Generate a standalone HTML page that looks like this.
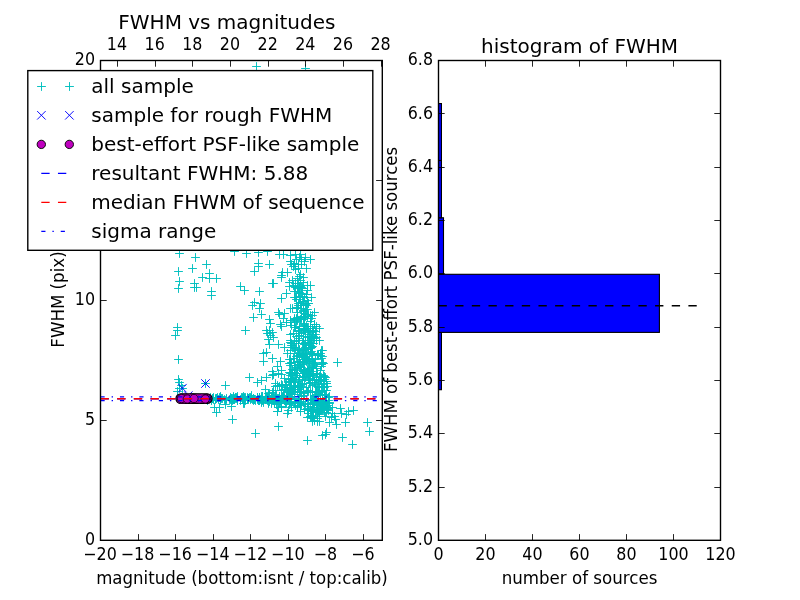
<!DOCTYPE html>
<html lang="en"><head><meta charset="utf-8"><title>FWHM vs magnitudes</title>
<style>html,body{margin:0;padding:0;background:#fff;overflow:hidden}svg{display:block;will-change:transform}text{font-family:"DejaVu Sans","Liberation Sans",sans-serif;fill:#000}</style>
</head><body>
<svg width="800" height="600" viewBox="0 0 800 600">
<rect width="800" height="600" fill="#fff"/>
<defs>
<clipPath id="c1"><rect x="100.5" y="60.5" width="281.80" height="479.80"/></clipPath>
<clipPath id="c2"><rect x="438.5" y="60.5" width="282.00" height="479.80"/></clipPath>
</defs>
<g clip-path="url(#c1)">
<path d="M175.1,253.5h8.8M179.5,249.1v8.8M188.1,268.5h8.8M192.5,264.1v8.8M198.1,277.5h8.8M202.5,273.1v8.8M175.1,281.5h8.8M179.5,277.1v8.8M192.1,287.5h8.8M196.5,283.1v8.8M207.1,295.5h8.8M211.5,291.1v8.8M171.1,335.5h8.8M175.5,331.1v8.8M254.1,252.5h8.8M258.5,248.1v8.8M254.1,263.5h8.8M258.5,259.1v8.8M250.1,271.5h8.8M254.5,267.1v8.8M255.1,291.5h8.8M259.5,287.1v8.8M277.1,277.5h8.8M281.5,273.1v8.8M248.1,305.5h8.8M252.5,301.1v8.8M255.1,308.5h8.8M259.5,304.1v8.8M241.1,330.5h8.8M245.5,326.1v8.8M266.1,323.5h8.8M270.5,319.1v8.8M265.1,330.5h8.8M269.5,326.1v8.8M263.1,333.5h8.8M267.5,329.1v8.8M174.1,359.5h8.8M178.5,355.1v8.8M175.1,388.5h8.8M179.5,384.1v8.8M178.1,388.5h8.8M182.5,384.1v8.8M245.1,377.5h8.8M249.5,373.1v8.8M262.1,377.5h8.8M266.5,373.1v8.8M259.1,361.5h8.8M263.5,357.1v8.8M273.1,366.5h8.8M277.5,362.1v8.8M215.1,407.5h8.8M219.5,403.1v8.8M265.1,344.5h8.8M269.5,340.1v8.8M262.1,352.5h8.8M266.5,348.1v8.8M273.1,411.5h8.8M277.5,407.1v8.8M318.1,435.5h8.8M322.5,431.1v8.8M338.1,437.5h8.8M342.5,433.1v8.8M365.1,431.5h8.8M369.5,427.1v8.8M341.1,422.5h8.8M345.5,418.1v8.8M349.1,410.5h8.8M353.5,406.1v8.8M328.1,413.5h8.8M332.5,409.1v8.8M331.1,419.5h8.8M335.5,415.1v8.8M333.1,362.5h8.8M337.5,358.1v8.8M275.1,314.5h8.8M279.5,310.1v8.8M276.1,324.5h8.8M280.5,320.1v8.8M286.1,255.5h8.8M290.5,251.1v8.8M301.1,257.5h8.8M305.5,253.1v8.8M292.1,259.5h8.8M296.5,255.1v8.8M287.1,264.5h8.8M291.5,260.1v8.8M297.1,264.5h8.8M301.5,260.1v8.8M294.1,268.5h8.8M298.5,264.1v8.8M283.1,272.5h8.8M287.5,268.1v8.8M299.1,277.5h8.8M303.5,273.1v8.8M296.1,280.5h8.8M300.5,276.1v8.8M291.1,283.5h8.8M295.5,279.1v8.8M295.1,276.5h8.8M299.5,272.1v8.8M241.1,400.5h8.8M245.5,396.1v8.8M243.1,398.5h8.8M247.5,394.1v8.8M282.1,397.5h8.8M286.5,393.1v8.8M211.1,398.5h8.8M215.5,394.1v8.8M216.1,397.5h8.8M220.5,393.1v8.8M212.1,398.5h8.8M216.5,394.1v8.8M267.1,399.5h8.8M271.5,395.1v8.8M229.1,399.5h8.8M233.5,395.1v8.8M263.1,397.5h8.8M267.5,393.1v8.8M243.1,399.5h8.8M247.5,395.1v8.8M263.1,396.5h8.8M267.5,392.1v8.8M283.1,397.5h8.8M287.5,393.1v8.8M222.1,399.5h8.8M226.5,395.1v8.8M233.1,400.5h8.8M237.5,396.1v8.8M208.1,398.5h8.8M212.5,394.1v8.8M279.1,397.5h8.8M283.5,393.1v8.8M254.1,399.5h8.8M258.5,395.1v8.8M239.1,398.5h8.8M243.5,394.1v8.8M203.1,398.5h8.8M207.5,394.1v8.8M262.1,396.5h8.8M266.5,392.1v8.8M236.1,400.5h8.8M240.5,396.1v8.8M267.1,398.5h8.8M271.5,394.1v8.8M257.1,398.5h8.8M261.5,394.1v8.8M265.1,401.5h8.8M269.5,397.1v8.8M254.1,400.5h8.8M258.5,396.1v8.8M208.1,398.5h8.8M212.5,394.1v8.8M240.1,397.5h8.8M244.5,393.1v8.8M238.1,397.5h8.8M242.5,393.1v8.8M270.1,401.5h8.8M274.5,397.1v8.8M277.1,398.5h8.8M281.5,394.1v8.8M218.1,398.5h8.8M222.5,394.1v8.8M239.1,396.5h8.8M243.5,392.1v8.8M258.1,399.5h8.8M262.5,395.1v8.8M220.1,399.5h8.8M224.5,395.1v8.8M239.1,399.5h8.8M243.5,395.1v8.8M209.1,399.5h8.8M213.5,395.1v8.8M285.1,398.5h8.8M289.5,394.1v8.8M258.1,398.5h8.8M262.5,394.1v8.8M247.1,398.5h8.8M251.5,394.1v8.8M226.1,397.5h8.8M230.5,393.1v8.8M264.1,397.5h8.8M268.5,393.1v8.8M257.1,398.5h8.8M261.5,394.1v8.8M285.1,403.5h8.8M289.5,399.1v8.8M212.1,398.5h8.8M216.5,394.1v8.8M280.1,400.5h8.8M284.5,396.1v8.8M222.1,398.5h8.8M226.5,394.1v8.8M253.1,399.5h8.8M257.5,395.1v8.8M221.1,400.5h8.8M225.5,396.1v8.8M245.1,397.5h8.8M249.5,393.1v8.8M281.1,400.5h8.8M285.5,396.1v8.8M228.1,398.5h8.8M232.5,394.1v8.8M254.1,400.5h8.8M258.5,396.1v8.8M277.1,390.5h8.8M281.5,386.1v8.8M279.1,395.5h8.8M283.5,391.1v8.8M277.1,399.5h8.8M281.5,395.1v8.8M283.1,389.5h8.8M287.5,385.1v8.8M274.1,407.5h8.8M278.5,403.1v8.8M275.1,398.5h8.8M279.5,394.1v8.8M263.1,399.5h8.8M267.5,395.1v8.8M264.1,402.5h8.8M268.5,398.1v8.8M279.1,398.5h8.8M283.5,394.1v8.8M273.1,400.5h8.8M277.5,396.1v8.8M257.1,400.5h8.8M261.5,396.1v8.8M258.1,400.5h8.8M262.5,396.1v8.8M287.1,381.5h8.8M291.5,377.1v8.8M286.1,392.5h8.8M290.5,388.1v8.8M277.1,406.5h8.8M281.5,402.1v8.8M284.1,410.5h8.8M288.5,406.1v8.8M264.1,403.5h8.8M268.5,399.1v8.8M267.1,399.5h8.8M271.5,395.1v8.8M283.1,389.5h8.8M287.5,385.1v8.8M269.1,398.5h8.8M273.5,394.1v8.8M293.1,286.5h8.8M297.5,282.1v8.8M296.1,296.5h8.8M300.5,292.1v8.8M295.1,299.5h8.8M299.5,295.1v8.8M291.1,287.5h8.8M295.5,283.1v8.8M295.1,286.5h8.8M299.5,282.1v8.8M300.1,297.5h8.8M304.5,293.1v8.8M302.1,294.5h8.8M306.5,290.1v8.8M295.1,292.5h8.8M299.5,288.1v8.8M296.1,286.5h8.8M300.5,282.1v8.8M292.1,299.5h8.8M296.5,295.1v8.8M300.1,317.5h8.8M304.5,313.1v8.8M297.1,305.5h8.8M301.5,301.1v8.8M290.1,319.5h8.8M294.5,315.1v8.8M301.1,304.5h8.8M305.5,300.1v8.8M299.1,303.5h8.8M303.5,299.1v8.8M286.1,308.5h8.8M290.5,304.1v8.8M302.1,309.5h8.8M306.5,305.1v8.8M299.1,310.5h8.8M303.5,306.1v8.8M304.1,303.5h8.8M308.5,299.1v8.8M293.1,308.5h8.8M297.5,304.1v8.8M300.1,317.5h8.8M304.5,313.1v8.8M302.1,305.5h8.8M306.5,301.1v8.8M300.1,313.5h8.8M304.5,309.1v8.8M306.1,315.5h8.8M310.5,311.1v8.8M310.1,312.5h8.8M314.5,308.1v8.8M292.1,336.5h8.8M296.5,332.1v8.8M300.1,344.5h8.8M304.5,340.1v8.8M294.1,343.5h8.8M298.5,339.1v8.8M307.1,337.5h8.8M311.5,333.1v8.8M306.1,340.5h8.8M310.5,336.1v8.8M308.1,337.5h8.8M312.5,333.1v8.8M299.1,340.5h8.8M303.5,336.1v8.8M295.1,335.5h8.8M299.5,331.1v8.8M310.1,324.5h8.8M314.5,320.1v8.8M286.1,334.5h8.8M290.5,330.1v8.8M290.1,327.5h8.8M294.5,323.1v8.8M309.1,336.5h8.8M313.5,332.1v8.8M298.1,343.5h8.8M302.5,339.1v8.8M312.1,326.5h8.8M316.5,322.1v8.8M299.1,343.5h8.8M303.5,339.1v8.8M291.1,327.5h8.8M295.5,323.1v8.8M292.1,343.5h8.8M296.5,339.1v8.8M303.1,337.5h8.8M307.5,333.1v8.8M310.1,324.5h8.8M314.5,320.1v8.8M295.1,328.5h8.8M299.5,324.1v8.8M311.1,331.5h8.8M315.5,327.1v8.8M294.1,340.5h8.8M298.5,336.1v8.8M306.1,326.5h8.8M310.5,322.1v8.8M294.1,331.5h8.8M298.5,327.1v8.8M300.1,324.5h8.8M304.5,320.1v8.8M312.1,337.5h8.8M316.5,333.1v8.8M305.1,359.5h8.8M309.5,355.1v8.8M285.1,363.5h8.8M289.5,359.1v8.8M283.1,353.5h8.8M287.5,349.1v8.8M286.1,359.5h8.8M290.5,355.1v8.8M286.1,350.5h8.8M290.5,346.1v8.8M294.1,353.5h8.8M298.5,349.1v8.8M295.1,350.5h8.8M299.5,346.1v8.8M306.1,348.5h8.8M310.5,344.1v8.8M298.1,355.5h8.8M302.5,351.1v8.8M309.1,366.5h8.8M313.5,362.1v8.8M302.1,354.5h8.8M306.5,350.1v8.8M290.1,362.5h8.8M294.5,358.1v8.8M319.1,363.5h8.8M323.5,359.1v8.8M294.1,353.5h8.8M298.5,349.1v8.8M313.1,355.5h8.8M317.5,351.1v8.8M285.1,359.5h8.8M289.5,355.1v8.8M296.1,353.5h8.8M300.5,349.1v8.8M301.1,356.5h8.8M305.5,352.1v8.8M298.1,359.5h8.8M302.5,355.1v8.8M314.1,354.5h8.8M318.5,350.1v8.8M296.1,366.5h8.8M300.5,362.1v8.8M293.1,365.5h8.8M297.5,361.1v8.8M305.1,360.5h8.8M309.5,356.1v8.8M291.1,367.5h8.8M295.5,363.1v8.8M298.1,359.5h8.8M302.5,355.1v8.8M304.1,363.5h8.8M308.5,359.1v8.8M311.1,359.5h8.8M315.5,355.1v8.8M316.1,355.5h8.8M320.5,351.1v8.8M293.1,353.5h8.8M297.5,349.1v8.8M306.1,352.5h8.8M310.5,348.1v8.8M300.1,359.5h8.8M304.5,355.1v8.8M310.1,364.5h8.8M314.5,360.1v8.8M308.1,367.5h8.8M312.5,363.1v8.8M305.1,361.5h8.8M309.5,357.1v8.8M299.1,362.5h8.8M303.5,358.1v8.8M290.1,394.5h8.8M294.5,390.1v8.8M293.1,386.5h8.8M297.5,382.1v8.8M300.1,370.5h8.8M304.5,366.1v8.8M323.1,386.5h8.8M327.5,382.1v8.8M297.1,386.5h8.8M301.5,382.1v8.8M306.1,382.5h8.8M310.5,378.1v8.8M299.1,371.5h8.8M303.5,367.1v8.8M285.1,372.5h8.8M289.5,368.1v8.8M305.1,378.5h8.8M309.5,374.1v8.8M302.1,387.5h8.8M306.5,383.1v8.8M278.1,396.5h8.8M282.5,392.1v8.8M286.1,382.5h8.8M290.5,378.1v8.8M287.1,394.5h8.8M291.5,390.1v8.8M304.1,371.5h8.8M308.5,367.1v8.8M319.1,387.5h8.8M323.5,383.1v8.8M288.1,378.5h8.8M292.5,374.1v8.8M315.1,376.5h8.8M319.5,372.1v8.8M304.1,379.5h8.8M308.5,375.1v8.8M286.1,375.5h8.8M290.5,371.1v8.8M287.1,388.5h8.8M291.5,384.1v8.8M318.1,387.5h8.8M322.5,383.1v8.8M295.1,389.5h8.8M299.5,385.1v8.8M287.1,372.5h8.8M291.5,368.1v8.8M313.1,373.5h8.8M317.5,369.1v8.8M316.1,374.5h8.8M320.5,370.1v8.8M291.1,385.5h8.8M295.5,381.1v8.8M312.1,391.5h8.8M316.5,387.1v8.8M303.1,391.5h8.8M307.5,387.1v8.8M286.1,388.5h8.8M290.5,384.1v8.8M296.1,385.5h8.8M300.5,381.1v8.8M312.1,377.5h8.8M316.5,373.1v8.8M290.1,387.5h8.8M294.5,383.1v8.8M308.1,392.5h8.8M312.5,388.1v8.8M317.1,384.5h8.8M321.5,380.1v8.8M325.1,396.5h8.8M329.5,392.1v8.8M298.1,373.5h8.8M302.5,369.1v8.8M309.1,374.5h8.8M313.5,370.1v8.8M306.1,375.5h8.8M310.5,371.1v8.8M289.1,380.5h8.8M293.5,376.1v8.8M303.1,370.5h8.8M307.5,366.1v8.8M316.1,394.5h8.8M320.5,390.1v8.8M311.1,384.5h8.8M315.5,380.1v8.8M290.1,382.5h8.8M294.5,378.1v8.8M304.1,376.5h8.8M308.5,372.1v8.8M317.1,391.5h8.8M321.5,387.1v8.8M320.1,379.5h8.8M324.5,375.1v8.8M290.1,372.5h8.8M294.5,368.1v8.8M322.1,383.5h8.8M326.5,379.1v8.8M322.1,381.5h8.8M326.5,377.1v8.8M303.1,373.5h8.8M307.5,369.1v8.8M304.1,390.5h8.8M308.5,386.1v8.8M280.1,378.5h8.8M284.5,374.1v8.8M278.1,385.5h8.8M282.5,381.1v8.8M273.1,385.5h8.8M277.5,381.1v8.8M271.1,386.5h8.8M275.5,382.1v8.8M300.1,409.5h8.8M304.5,405.1v8.8M319.1,408.5h8.8M323.5,404.1v8.8M317.1,409.5h8.8M321.5,405.1v8.8M324.1,408.5h8.8M328.5,404.1v8.8M297.1,404.5h8.8M301.5,400.1v8.8M325.1,403.5h8.8M329.5,399.1v8.8M319.1,402.5h8.8M323.5,398.1v8.8M314.1,401.5h8.8M318.5,397.1v8.8M312.1,404.5h8.8M316.5,400.1v8.8M306.1,400.5h8.8M310.5,396.1v8.8M296.1,405.5h8.8M300.5,401.1v8.8M323.1,405.5h8.8M327.5,401.1v8.8M280.1,400.5h8.8M284.5,396.1v8.8M293.1,406.5h8.8M297.5,402.1v8.8M303.1,406.5h8.8M307.5,402.1v8.8M322.1,407.5h8.8M326.5,403.1v8.8M291.1,405.5h8.8M295.5,401.1v8.8M312.1,400.5h8.8M316.5,396.1v8.8M314.1,401.5h8.8M318.5,397.1v8.8M321.1,401.5h8.8M325.5,397.1v8.8M313.1,416.5h8.8M317.5,412.1v8.8M321.1,416.5h8.8M325.5,412.1v8.8M296.1,411.5h8.8M300.5,407.1v8.8M315.1,421.5h8.8M319.5,417.1v8.8M307.1,416.5h8.8M311.5,412.1v8.8M320.1,412.5h8.8M324.5,408.1v8.8M304.1,413.5h8.8M308.5,409.1v8.8M316.1,410.5h8.8M320.5,406.1v8.8M316.1,402.5h8.8M320.5,398.1v8.8M313.1,405.5h8.8M317.5,401.1v8.8M323.1,409.5h8.8M327.5,405.1v8.8M322.1,409.5h8.8M326.5,405.1v8.8M309.1,407.5h8.8M313.5,403.1v8.8M308.1,411.5h8.8M312.5,407.1v8.8" stroke="#00bfbf" stroke-width="0.95" fill="none"/>
<path d="M191.1,257.5h8.8M195.5,253.1v8.8M174.1,271.5h8.8M178.5,267.1v8.8M205.1,278.5h8.8M209.5,274.1v8.8M190.1,283.5h8.8M194.5,279.1v8.8M190.1,287.5h8.8M194.5,283.1v8.8M173.1,327.5h8.8M177.5,323.1v8.8M230.1,251.5h8.8M234.5,247.1v8.8M263.1,251.5h8.8M267.5,247.1v8.8M254.1,266.5h8.8M258.5,262.1v8.8M236.1,286.5h8.8M240.5,282.1v8.8M268.1,283.5h8.8M272.5,279.1v8.8M282.1,293.5h8.8M286.5,289.1v8.8M250.1,302.5h8.8M254.5,298.1v8.8M257.1,314.5h8.8M261.5,310.1v8.8M274.1,312.5h8.8M278.5,308.1v8.8M277.1,326.5h8.8M281.5,322.1v8.8M268.1,332.5h8.8M272.5,328.1v8.8M269.1,337.5h8.8M273.5,333.1v8.8M174.1,379.5h8.8M178.5,375.1v8.8M177.1,385.5h8.8M181.5,381.1v8.8M201.1,383.5h8.8M205.5,379.1v8.8M253.1,382.5h8.8M257.5,378.1v8.8M269.1,374.5h8.8M273.5,370.1v8.8M268.1,358.5h8.8M272.5,354.1v8.8M210.1,407.5h8.8M214.5,403.1v8.8M273.1,411.5h8.8M277.5,407.1v8.8M274.1,344.5h8.8M278.5,340.1v8.8M228.1,419.5h8.8M232.5,415.1v8.8M274.1,426.5h8.8M278.5,422.1v8.8M321.1,434.5h8.8M325.5,430.1v8.8M348.1,444.5h8.8M352.5,440.1v8.8M325.1,422.5h8.8M329.5,418.1v8.8M336.1,408.5h8.8M340.5,404.1v8.8M337.1,413.5h8.8M341.5,409.1v8.8M330.1,416.5h8.8M334.5,412.1v8.8M328.1,407.5h8.8M332.5,403.1v8.8M252.1,66.5h8.8M256.5,62.1v8.8M279.1,318.5h8.8M283.5,314.1v8.8M280.1,313.5h8.8M284.5,309.1v8.8M291.1,254.5h8.8M295.5,250.1v8.8M306.1,259.5h8.8M310.5,255.1v8.8M297.1,259.5h8.8M301.5,255.1v8.8M290.1,263.5h8.8M294.5,259.1v8.8M302.1,268.5h8.8M306.5,264.1v8.8M291.1,269.5h8.8M295.5,265.1v8.8M277.1,275.5h8.8M281.5,271.1v8.8M293.1,278.5h8.8M297.5,274.1v8.8M285.1,282.5h8.8M289.5,278.1v8.8M294.1,283.5h8.8M298.5,279.1v8.8M217.1,398.5h8.8M221.5,394.1v8.8M264.1,399.5h8.8M268.5,395.1v8.8M203.1,399.5h8.8M207.5,395.1v8.8M275.1,402.5h8.8M279.5,398.1v8.8M278.1,397.5h8.8M282.5,393.1v8.8M256.1,399.5h8.8M260.5,395.1v8.8M229.1,397.5h8.8M233.5,393.1v8.8M272.1,399.5h8.8M276.5,395.1v8.8M211.1,399.5h8.8M215.5,395.1v8.8M253.1,397.5h8.8M257.5,393.1v8.8M236.1,399.5h8.8M240.5,395.1v8.8M253.1,397.5h8.8M257.5,393.1v8.8M286.1,399.5h8.8M290.5,395.1v8.8M270.1,402.5h8.8M274.5,398.1v8.8M208.1,398.5h8.8M212.5,394.1v8.8M226.1,399.5h8.8M230.5,395.1v8.8M270.1,397.5h8.8M274.5,393.1v8.8M233.1,398.5h8.8M237.5,394.1v8.8M265.1,396.5h8.8M269.5,392.1v8.8M268.1,399.5h8.8M272.5,395.1v8.8M265.1,396.5h8.8M269.5,392.1v8.8M232.1,397.5h8.8M236.5,393.1v8.8M258.1,396.5h8.8M262.5,392.1v8.8M284.1,398.5h8.8M288.5,394.1v8.8M283.1,398.5h8.8M287.5,394.1v8.8M233.1,400.5h8.8M237.5,396.1v8.8M203.1,400.5h8.8M207.5,396.1v8.8M255.1,397.5h8.8M259.5,393.1v8.8M233.1,398.5h8.8M237.5,394.1v8.8M273.1,398.5h8.8M277.5,394.1v8.8M257.1,398.5h8.8M261.5,394.1v8.8M268.1,395.5h8.8M272.5,391.1v8.8M229.1,397.5h8.8M233.5,393.1v8.8M251.1,400.5h8.8M255.5,396.1v8.8M274.1,400.5h8.8M278.5,396.1v8.8M209.1,397.5h8.8M213.5,393.1v8.8M231.1,397.5h8.8M235.5,393.1v8.8M255.1,397.5h8.8M259.5,393.1v8.8M255.1,400.5h8.8M259.5,396.1v8.8M280.1,398.5h8.8M284.5,394.1v8.8M246.1,397.5h8.8M250.5,393.1v8.8M244.1,398.5h8.8M248.5,394.1v8.8M240.1,398.5h8.8M244.5,394.1v8.8M282.1,396.5h8.8M286.5,392.1v8.8M249.1,398.5h8.8M253.5,394.1v8.8M228.1,400.5h8.8M232.5,396.1v8.8M238.1,398.5h8.8M242.5,394.1v8.8M282.1,398.5h8.8M286.5,394.1v8.8M263.1,400.5h8.8M267.5,396.1v8.8M213.1,397.5h8.8M217.5,393.1v8.8M232.1,398.5h8.8M236.5,394.1v8.8M240.1,403.5h8.8M244.5,399.1v8.8M273.1,399.5h8.8M277.5,395.1v8.8M239.1,403.5h8.8M243.5,399.1v8.8M285.1,390.5h8.8M289.5,386.1v8.8M286.1,402.5h8.8M290.5,398.1v8.8M275.1,396.5h8.8M279.5,392.1v8.8M257.1,402.5h8.8M261.5,398.1v8.8M257.1,401.5h8.8M261.5,397.1v8.8M270.1,403.5h8.8M274.5,399.1v8.8M272.1,395.5h8.8M276.5,391.1v8.8M269.1,397.5h8.8M273.5,393.1v8.8M259.1,400.5h8.8M263.5,396.1v8.8M272.1,404.5h8.8M276.5,400.1v8.8M277.1,407.5h8.8M281.5,403.1v8.8M265.1,398.5h8.8M269.5,394.1v8.8M275.1,400.5h8.8M279.5,396.1v8.8M255.1,397.5h8.8M259.5,393.1v8.8M269.1,400.5h8.8M273.5,396.1v8.8M259.1,402.5h8.8M263.5,398.1v8.8M283.1,396.5h8.8M287.5,392.1v8.8M257.1,396.5h8.8M261.5,392.1v8.8M279.1,395.5h8.8M283.5,391.1v8.8M303.1,290.5h8.8M307.5,286.1v8.8M290.1,297.5h8.8M294.5,293.1v8.8M294.1,291.5h8.8M298.5,287.1v8.8M290.1,291.5h8.8M294.5,287.1v8.8M298.1,288.5h8.8M302.5,284.1v8.8M293.1,288.5h8.8M297.5,284.1v8.8M298.1,296.5h8.8M302.5,292.1v8.8M297.1,287.5h8.8M301.5,283.1v8.8M285.1,286.5h8.8M289.5,282.1v8.8M289.1,285.5h8.8M293.5,281.1v8.8M304.1,314.5h8.8M308.5,310.1v8.8M293.1,312.5h8.8M297.5,308.1v8.8M296.1,305.5h8.8M300.5,301.1v8.8M301.1,316.5h8.8M305.5,312.1v8.8M288.1,308.5h8.8M292.5,304.1v8.8M296.1,302.5h8.8M300.5,298.1v8.8M294.1,303.5h8.8M298.5,299.1v8.8M294.1,305.5h8.8M298.5,301.1v8.8M303.1,300.5h8.8M307.5,296.1v8.8M297.1,317.5h8.8M301.5,313.1v8.8M307.1,318.5h8.8M311.5,314.1v8.8M304.1,303.5h8.8M308.5,299.1v8.8M292.1,318.5h8.8M296.5,314.1v8.8M299.1,317.5h8.8M303.5,313.1v8.8M297.1,316.5h8.8M301.5,312.1v8.8M308.1,331.5h8.8M312.5,327.1v8.8M309.1,343.5h8.8M313.5,339.1v8.8M295.1,328.5h8.8M299.5,324.1v8.8M304.1,342.5h8.8M308.5,338.1v8.8M286.1,340.5h8.8M290.5,336.1v8.8M292.1,321.5h8.8M296.5,317.1v8.8M286.1,322.5h8.8M290.5,318.1v8.8M304.1,331.5h8.8M308.5,327.1v8.8M301.1,336.5h8.8M305.5,332.1v8.8M286.1,342.5h8.8M290.5,338.1v8.8M301.1,342.5h8.8M305.5,338.1v8.8M290.1,322.5h8.8M294.5,318.1v8.8M307.1,343.5h8.8M311.5,339.1v8.8M305.1,343.5h8.8M309.5,339.1v8.8M293.1,320.5h8.8M297.5,316.1v8.8M286.1,320.5h8.8M290.5,316.1v8.8M308.1,331.5h8.8M312.5,327.1v8.8M290.1,341.5h8.8M294.5,337.1v8.8M306.1,343.5h8.8M310.5,339.1v8.8M305.1,336.5h8.8M309.5,332.1v8.8M300.1,323.5h8.8M304.5,319.1v8.8M302.1,326.5h8.8M306.5,322.1v8.8M299.1,329.5h8.8M303.5,325.1v8.8M305.1,340.5h8.8M309.5,336.1v8.8M300.1,325.5h8.8M304.5,321.1v8.8M290.1,353.5h8.8M294.5,349.1v8.8M303.1,369.5h8.8M307.5,365.1v8.8M317.1,358.5h8.8M321.5,354.1v8.8M288.1,369.5h8.8M292.5,365.1v8.8M308.1,358.5h8.8M312.5,354.1v8.8M304.1,345.5h8.8M308.5,341.1v8.8M314.1,355.5h8.8M318.5,351.1v8.8M317.1,350.5h8.8M321.5,346.1v8.8M295.1,349.5h8.8M299.5,345.1v8.8M308.1,346.5h8.8M312.5,342.1v8.8M317.1,364.5h8.8M321.5,360.1v8.8M293.1,361.5h8.8M297.5,357.1v8.8M297.1,367.5h8.8M301.5,363.1v8.8M308.1,367.5h8.8M312.5,363.1v8.8M301.1,357.5h8.8M305.5,353.1v8.8M302.1,361.5h8.8M306.5,357.1v8.8M307.1,353.5h8.8M311.5,349.1v8.8M303.1,359.5h8.8M307.5,355.1v8.8M317.1,364.5h8.8M321.5,360.1v8.8M288.1,347.5h8.8M292.5,343.1v8.8M291.1,348.5h8.8M295.5,344.1v8.8M286.1,363.5h8.8M290.5,359.1v8.8M298.1,362.5h8.8M302.5,358.1v8.8M301.1,349.5h8.8M305.5,345.1v8.8M290.1,369.5h8.8M294.5,365.1v8.8M294.1,364.5h8.8M298.5,360.1v8.8M296.1,364.5h8.8M300.5,360.1v8.8M286.1,365.5h8.8M290.5,361.1v8.8M309.1,362.5h8.8M313.5,358.1v8.8M298.1,355.5h8.8M302.5,351.1v8.8M297.1,354.5h8.8M301.5,350.1v8.8M308.1,354.5h8.8M312.5,350.1v8.8M307.1,351.5h8.8M311.5,347.1v8.8M310.1,363.5h8.8M314.5,359.1v8.8M304.1,349.5h8.8M308.5,345.1v8.8M303.1,358.5h8.8M307.5,354.1v8.8M281.1,387.5h8.8M285.5,383.1v8.8M320.1,376.5h8.8M324.5,372.1v8.8M290.1,370.5h8.8M294.5,366.1v8.8M317.1,381.5h8.8M321.5,377.1v8.8M286.1,373.5h8.8M290.5,369.1v8.8M314.1,387.5h8.8M318.5,383.1v8.8M295.1,396.5h8.8M299.5,392.1v8.8M284.1,379.5h8.8M288.5,375.1v8.8M299.1,371.5h8.8M303.5,367.1v8.8M320.1,390.5h8.8M324.5,386.1v8.8M317.1,379.5h8.8M321.5,375.1v8.8M305.1,383.5h8.8M309.5,379.1v8.8M320.1,387.5h8.8M324.5,383.1v8.8M291.1,377.5h8.8M295.5,373.1v8.8M296.1,392.5h8.8M300.5,388.1v8.8M305.1,371.5h8.8M309.5,367.1v8.8M297.1,392.5h8.8M301.5,388.1v8.8M304.1,376.5h8.8M308.5,372.1v8.8M312.1,391.5h8.8M316.5,387.1v8.8M299.1,376.5h8.8M303.5,372.1v8.8M286.1,393.5h8.8M290.5,389.1v8.8M319.1,375.5h8.8M323.5,371.1v8.8M312.1,394.5h8.8M316.5,390.1v8.8M300.1,395.5h8.8M304.5,391.1v8.8M299.1,371.5h8.8M303.5,367.1v8.8M316.1,380.5h8.8M320.5,376.1v8.8M281.1,385.5h8.8M285.5,381.1v8.8M299.1,392.5h8.8M303.5,388.1v8.8M306.1,392.5h8.8M310.5,388.1v8.8M292.1,375.5h8.8M296.5,371.1v8.8M293.1,373.5h8.8M297.5,369.1v8.8M294.1,387.5h8.8M298.5,383.1v8.8M319.1,381.5h8.8M323.5,377.1v8.8M318.1,394.5h8.8M322.5,390.1v8.8M286.1,381.5h8.8M290.5,377.1v8.8M310.1,382.5h8.8M314.5,378.1v8.8M309.1,373.5h8.8M313.5,369.1v8.8M305.1,374.5h8.8M309.5,370.1v8.8M288.1,374.5h8.8M292.5,370.1v8.8M316.1,370.5h8.8M320.5,366.1v8.8M320.1,395.5h8.8M324.5,391.1v8.8M291.1,389.5h8.8M295.5,385.1v8.8M312.1,379.5h8.8M316.5,375.1v8.8M311.1,392.5h8.8M315.5,388.1v8.8M312.1,396.5h8.8M316.5,392.1v8.8M297.1,396.5h8.8M301.5,392.1v8.8M313.1,386.5h8.8M317.5,382.1v8.8M294.1,381.5h8.8M298.5,377.1v8.8M315.1,386.5h8.8M319.5,382.1v8.8M291.1,386.5h8.8M295.5,382.1v8.8M277.1,374.5h8.8M281.5,370.1v8.8M269.1,390.5h8.8M273.5,386.1v8.8M268.1,395.5h8.8M272.5,391.1v8.8M277.1,370.5h8.8M281.5,366.1v8.8M268.1,375.5h8.8M272.5,371.1v8.8M308.1,404.5h8.8M312.5,400.1v8.8M318.1,404.5h8.8M322.5,400.1v8.8M310.1,400.5h8.8M314.5,396.1v8.8M285.1,398.5h8.8M289.5,394.1v8.8M287.1,407.5h8.8M291.5,403.1v8.8M294.1,398.5h8.8M298.5,394.1v8.8M287.1,403.5h8.8M291.5,399.1v8.8M322.1,406.5h8.8M326.5,402.1v8.8M310.1,407.5h8.8M314.5,403.1v8.8M324.1,400.5h8.8M328.5,396.1v8.8M303.1,409.5h8.8M307.5,405.1v8.8M294.1,399.5h8.8M298.5,395.1v8.8M323.1,407.5h8.8M327.5,403.1v8.8M285.1,404.5h8.8M289.5,400.1v8.8M308.1,400.5h8.8M312.5,396.1v8.8M312.1,404.5h8.8M316.5,400.1v8.8M316.1,406.5h8.8M320.5,402.1v8.8M307.1,399.5h8.8M311.5,395.1v8.8M317.1,402.5h8.8M321.5,398.1v8.8M299.1,401.5h8.8M303.5,397.1v8.8M314.1,411.5h8.8M318.5,407.1v8.8M303.1,417.5h8.8M307.5,413.1v8.8M308.1,418.5h8.8M312.5,414.1v8.8M309.1,417.5h8.8M313.5,413.1v8.8M313.1,418.5h8.8M317.5,414.1v8.8M315.1,412.5h8.8M319.5,408.1v8.8M308.1,415.5h8.8M312.5,411.1v8.8M318.1,401.5h8.8M322.5,397.1v8.8M315.1,414.5h8.8M319.5,410.1v8.8M320.1,409.5h8.8M324.5,405.1v8.8M313.1,410.5h8.8M317.5,406.1v8.8M304.1,404.5h8.8M308.5,400.1v8.8M304.1,410.5h8.8M308.5,406.1v8.8M316.1,409.5h8.8M320.5,405.1v8.8" stroke="#00bfbf" stroke-width="0.95" fill="none"/>
<path d="M202.1,264.5h8.8M206.5,260.1v8.8M205.1,273.5h8.8M209.5,269.1v8.8M212.1,278.5h8.8M216.5,274.1v8.8M174.1,288.5h8.8M178.5,284.1v8.8M207.1,291.5h8.8M211.5,287.1v8.8M173.1,330.5h8.8M177.5,326.1v8.8M242.1,253.5h8.8M246.5,249.1v8.8M275.1,254.5h8.8M279.5,250.1v8.8M265.1,264.5h8.8M269.5,260.1v8.8M240.1,290.5h8.8M244.5,286.1v8.8M269.1,283.5h8.8M273.5,279.1v8.8M277.1,298.5h8.8M281.5,294.1v8.8M256.1,303.5h8.8M260.5,299.1v8.8M249.1,317.5h8.8M253.5,313.1v8.8M265.1,319.5h8.8M269.5,315.1v8.8M262.1,330.5h8.8M266.5,326.1v8.8M266.1,335.5h8.8M270.5,331.1v8.8M264.1,339.5h8.8M268.5,335.1v8.8M175.1,382.5h8.8M179.5,378.1v8.8M173.1,391.5h8.8M177.5,387.1v8.8M221.1,385.5h8.8M225.5,381.1v8.8M257.1,380.5h8.8M261.5,376.1v8.8M259.1,353.5h8.8M263.5,349.1v8.8M276.1,361.5h8.8M280.5,357.1v8.8M212.1,412.5h8.8M216.5,408.1v8.8M227.1,406.5h8.8M231.5,402.1v8.8M280.1,347.5h8.8M284.5,343.1v8.8M251.1,433.5h8.8M255.5,429.1v8.8M303.1,440.5h8.8M307.5,436.1v8.8M322.1,432.5h8.8M326.5,428.1v8.8M363.1,422.5h8.8M367.5,418.1v8.8M332.1,424.5h8.8M336.5,420.1v8.8M344.1,411.5h8.8M348.5,407.1v8.8M342.1,414.5h8.8M346.5,410.1v8.8M327.1,417.5h8.8M331.5,413.1v8.8M324.1,410.5h8.8M328.5,406.1v8.8M301.1,68.5h8.8M305.5,64.1v8.8M282.1,322.5h8.8M286.5,318.1v8.8M279.1,254.5h8.8M283.5,250.1v8.8M296.1,254.5h8.8M300.5,250.1v8.8M286.1,261.5h8.8M290.5,257.1v8.8M300.1,261.5h8.8M304.5,257.1v8.8M294.1,264.5h8.8M298.5,260.1v8.8M289.1,266.5h8.8M293.5,262.1v8.8M278.1,272.5h8.8M282.5,268.1v8.8M296.1,274.5h8.8M300.5,270.1v8.8M288.1,280.5h8.8M292.5,276.1v8.8M299.1,282.5h8.8M303.5,278.1v8.8M295.1,257.5h8.8M299.5,253.1v8.8M203.1,398.5h8.8M207.5,394.1v8.8M238.1,398.5h8.8M242.5,394.1v8.8M243.1,397.5h8.8M247.5,393.1v8.8M264.1,400.5h8.8M268.5,396.1v8.8M275.1,398.5h8.8M279.5,394.1v8.8M203.1,399.5h8.8M207.5,395.1v8.8M215.1,397.5h8.8M219.5,393.1v8.8M231.1,398.5h8.8M235.5,394.1v8.8M209.1,398.5h8.8M213.5,394.1v8.8M206.1,397.5h8.8M210.5,393.1v8.8M274.1,399.5h8.8M278.5,395.1v8.8M249.1,398.5h8.8M253.5,394.1v8.8M231.1,397.5h8.8M235.5,393.1v8.8M207.1,400.5h8.8M211.5,396.1v8.8M229.1,399.5h8.8M233.5,395.1v8.8M269.1,398.5h8.8M273.5,394.1v8.8M250.1,399.5h8.8M254.5,395.1v8.8M216.1,397.5h8.8M220.5,393.1v8.8M207.1,400.5h8.8M211.5,396.1v8.8M227.1,398.5h8.8M231.5,394.1v8.8M282.1,398.5h8.8M286.5,394.1v8.8M271.1,397.5h8.8M275.5,393.1v8.8M271.1,395.5h8.8M275.5,391.1v8.8M230.1,398.5h8.8M234.5,394.1v8.8M230.1,399.5h8.8M234.5,395.1v8.8M241.1,397.5h8.8M245.5,393.1v8.8M267.1,396.5h8.8M271.5,392.1v8.8M265.1,396.5h8.8M269.5,392.1v8.8M216.1,400.5h8.8M220.5,396.1v8.8M265.1,395.5h8.8M269.5,391.1v8.8M261.1,399.5h8.8M265.5,395.1v8.8M230.1,399.5h8.8M234.5,395.1v8.8M250.1,399.5h8.8M254.5,395.1v8.8M229.1,396.5h8.8M233.5,392.1v8.8M227.1,398.5h8.8M231.5,394.1v8.8M227.1,399.5h8.8M231.5,395.1v8.8M262.1,397.5h8.8M266.5,393.1v8.8M225.1,399.5h8.8M229.5,395.1v8.8M273.1,401.5h8.8M277.5,397.1v8.8M237.1,397.5h8.8M241.5,393.1v8.8M281.1,399.5h8.8M285.5,395.1v8.8M244.1,398.5h8.8M248.5,394.1v8.8M249.1,400.5h8.8M253.5,396.1v8.8M274.1,398.5h8.8M278.5,394.1v8.8M233.1,400.5h8.8M237.5,396.1v8.8M282.1,403.5h8.8M286.5,399.1v8.8M284.1,398.5h8.8M288.5,394.1v8.8M248.1,399.5h8.8M252.5,395.1v8.8M246.1,399.5h8.8M250.5,395.1v8.8M214.1,399.5h8.8M218.5,395.1v8.8M221.1,404.5h8.8M225.5,400.1v8.8M216.1,396.5h8.8M220.5,392.1v8.8M233.1,396.5h8.8M237.5,392.1v8.8M247.1,395.5h8.8M251.5,391.1v8.8M286.1,397.5h8.8M290.5,393.1v8.8M259.1,400.5h8.8M263.5,396.1v8.8M264.1,393.5h8.8M268.5,389.1v8.8M280.1,398.5h8.8M284.5,394.1v8.8M261.1,389.5h8.8M265.5,385.1v8.8M261.1,397.5h8.8M265.5,393.1v8.8M258.1,396.5h8.8M262.5,392.1v8.8M267.1,403.5h8.8M271.5,399.1v8.8M284.1,391.5h8.8M288.5,387.1v8.8M286.1,399.5h8.8M290.5,395.1v8.8M287.1,381.5h8.8M291.5,377.1v8.8M275.1,396.5h8.8M279.5,392.1v8.8M283.1,413.5h8.8M287.5,409.1v8.8M265.1,395.5h8.8M269.5,391.1v8.8M268.1,399.5h8.8M272.5,395.1v8.8M276.1,401.5h8.8M280.5,397.1v8.8M255.1,400.5h8.8M259.5,396.1v8.8M281.1,403.5h8.8M285.5,399.1v8.8M292.1,297.5h8.8M296.5,293.1v8.8M297.1,293.5h8.8M301.5,289.1v8.8M298.1,288.5h8.8M302.5,284.1v8.8M295.1,286.5h8.8M299.5,282.1v8.8M307.1,297.5h8.8M311.5,293.1v8.8M291.1,297.5h8.8M295.5,293.1v8.8M303.1,285.5h8.8M307.5,281.1v8.8M306.1,285.5h8.8M310.5,281.1v8.8M302.1,294.5h8.8M306.5,290.1v8.8M294.1,293.5h8.8M298.5,289.1v8.8M297.1,308.5h8.8M301.5,304.1v8.8M292.1,307.5h8.8M296.5,303.1v8.8M303.1,309.5h8.8M307.5,305.1v8.8M297.1,318.5h8.8M301.5,314.1v8.8M293.1,317.5h8.8M297.5,313.1v8.8M301.1,314.5h8.8M305.5,310.1v8.8M308.1,315.5h8.8M312.5,311.1v8.8M299.1,301.5h8.8M303.5,297.1v8.8M303.1,316.5h8.8M307.5,312.1v8.8M290.1,318.5h8.8M294.5,314.1v8.8M299.1,311.5h8.8M303.5,307.1v8.8M299.1,301.5h8.8M303.5,297.1v8.8M299.1,319.5h8.8M303.5,315.1v8.8M292.1,319.5h8.8M296.5,315.1v8.8M306.1,318.5h8.8M310.5,314.1v8.8M296.1,319.5h8.8M300.5,315.1v8.8M303.1,328.5h8.8M307.5,324.1v8.8M287.1,343.5h8.8M291.5,339.1v8.8M315.1,340.5h8.8M319.5,336.1v8.8M307.1,338.5h8.8M311.5,334.1v8.8M311.1,334.5h8.8M315.5,330.1v8.8M301.1,329.5h8.8M305.5,325.1v8.8M308.1,328.5h8.8M312.5,324.1v8.8M306.1,321.5h8.8M310.5,317.1v8.8M297.1,333.5h8.8M301.5,329.1v8.8M307.1,343.5h8.8M311.5,339.1v8.8M289.1,333.5h8.8M293.5,329.1v8.8M304.1,330.5h8.8M308.5,326.1v8.8M294.1,330.5h8.8M298.5,326.1v8.8M299.1,332.5h8.8M303.5,328.1v8.8M306.1,334.5h8.8M310.5,330.1v8.8M308.1,332.5h8.8M312.5,328.1v8.8M287.1,325.5h8.8M291.5,321.1v8.8M295.1,338.5h8.8M299.5,334.1v8.8M295.1,326.5h8.8M299.5,322.1v8.8M310.1,338.5h8.8M314.5,334.1v8.8M309.1,330.5h8.8M313.5,326.1v8.8M300.1,330.5h8.8M304.5,326.1v8.8M306.1,328.5h8.8M310.5,324.1v8.8M312.1,340.5h8.8M316.5,336.1v8.8M315.1,328.5h8.8M319.5,324.1v8.8M307.1,347.5h8.8M311.5,343.1v8.8M299.1,348.5h8.8M303.5,344.1v8.8M299.1,353.5h8.8M303.5,349.1v8.8M307.1,347.5h8.8M311.5,343.1v8.8M312.1,368.5h8.8M316.5,364.1v8.8M295.1,367.5h8.8M299.5,363.1v8.8M289.1,347.5h8.8M293.5,343.1v8.8M287.1,362.5h8.8M291.5,358.1v8.8M295.1,355.5h8.8M299.5,351.1v8.8M300.1,369.5h8.8M304.5,365.1v8.8M318.1,362.5h8.8M322.5,358.1v8.8M309.1,365.5h8.8M313.5,361.1v8.8M296.1,364.5h8.8M300.5,360.1v8.8M299.1,364.5h8.8M303.5,360.1v8.8M302.1,347.5h8.8M306.5,343.1v8.8M318.1,350.5h8.8M322.5,346.1v8.8M300.1,350.5h8.8M304.5,346.1v8.8M318.1,356.5h8.8M322.5,352.1v8.8M305.1,361.5h8.8M309.5,357.1v8.8M287.1,345.5h8.8M291.5,341.1v8.8M295.1,361.5h8.8M299.5,357.1v8.8M292.1,356.5h8.8M296.5,352.1v8.8M289.1,358.5h8.8M293.5,354.1v8.8M306.1,345.5h8.8M310.5,341.1v8.8M300.1,357.5h8.8M304.5,353.1v8.8M290.1,347.5h8.8M294.5,343.1v8.8M295.1,350.5h8.8M299.5,346.1v8.8M293.1,368.5h8.8M297.5,364.1v8.8M317.1,366.5h8.8M321.5,362.1v8.8M312.1,368.5h8.8M316.5,364.1v8.8M313.1,355.5h8.8M317.5,351.1v8.8M305.1,368.5h8.8M309.5,364.1v8.8M301.1,347.5h8.8M305.5,343.1v8.8M316.1,353.5h8.8M320.5,349.1v8.8M308.1,353.5h8.8M312.5,349.1v8.8M316.1,394.5h8.8M320.5,390.1v8.8M312.1,379.5h8.8M316.5,375.1v8.8M298.1,373.5h8.8M302.5,369.1v8.8M318.1,395.5h8.8M322.5,391.1v8.8M315.1,392.5h8.8M319.5,388.1v8.8M280.1,389.5h8.8M284.5,385.1v8.8M286.1,396.5h8.8M290.5,392.1v8.8M308.1,375.5h8.8M312.5,371.1v8.8M284.1,392.5h8.8M288.5,388.1v8.8M322.1,390.5h8.8M326.5,386.1v8.8M288.1,391.5h8.8M292.5,387.1v8.8M299.1,393.5h8.8M303.5,389.1v8.8M307.1,371.5h8.8M311.5,367.1v8.8M314.1,380.5h8.8M318.5,376.1v8.8M295.1,379.5h8.8M299.5,375.1v8.8M305.1,380.5h8.8M309.5,376.1v8.8M320.1,394.5h8.8M324.5,390.1v8.8M289.1,389.5h8.8M293.5,385.1v8.8M312.1,373.5h8.8M316.5,369.1v8.8M324.1,397.5h8.8M328.5,393.1v8.8M299.1,391.5h8.8M303.5,387.1v8.8M281.1,384.5h8.8M285.5,380.1v8.8M292.1,375.5h8.8M296.5,371.1v8.8M282.1,384.5h8.8M286.5,380.1v8.8M298.1,383.5h8.8M302.5,379.1v8.8M302.1,372.5h8.8M306.5,368.1v8.8M314.1,393.5h8.8M318.5,389.1v8.8M300.1,380.5h8.8M304.5,376.1v8.8M322.1,383.5h8.8M326.5,379.1v8.8M310.1,380.5h8.8M314.5,376.1v8.8M285.1,382.5h8.8M289.5,378.1v8.8M295.1,392.5h8.8M299.5,388.1v8.8M321.1,395.5h8.8M325.5,391.1v8.8M298.1,377.5h8.8M302.5,373.1v8.8M285.1,396.5h8.8M289.5,392.1v8.8M308.1,385.5h8.8M312.5,381.1v8.8M293.1,391.5h8.8M297.5,387.1v8.8M287.1,379.5h8.8M291.5,375.1v8.8M300.1,372.5h8.8M304.5,368.1v8.8M311.1,395.5h8.8M315.5,391.1v8.8M295.1,377.5h8.8M299.5,373.1v8.8M277.1,384.5h8.8M281.5,380.1v8.8M300.1,373.5h8.8M304.5,369.1v8.8M301.1,377.5h8.8M305.5,373.1v8.8M322.1,397.5h8.8M326.5,393.1v8.8M298.1,384.5h8.8M302.5,380.1v8.8M321.1,377.5h8.8M325.5,373.1v8.8M316.1,395.5h8.8M320.5,391.1v8.8M293.1,387.5h8.8M297.5,383.1v8.8M316.1,379.5h8.8M320.5,375.1v8.8M315.1,390.5h8.8M319.5,386.1v8.8M274.1,373.5h8.8M278.5,369.1v8.8M271.1,383.5h8.8M275.5,379.1v8.8M268.1,392.5h8.8M272.5,388.1v8.8M268.1,371.5h8.8M272.5,367.1v8.8M275.1,386.5h8.8M279.5,382.1v8.8M318.1,408.5h8.8M322.5,404.1v8.8M319.1,406.5h8.8M323.5,402.1v8.8M293.1,407.5h8.8M297.5,403.1v8.8M290.1,402.5h8.8M294.5,398.1v8.8M295.1,403.5h8.8M299.5,399.1v8.8M309.1,399.5h8.8M313.5,395.1v8.8M315.1,409.5h8.8M319.5,405.1v8.8M285.1,398.5h8.8M289.5,394.1v8.8M309.1,402.5h8.8M313.5,398.1v8.8M319.1,403.5h8.8M323.5,399.1v8.8M290.1,401.5h8.8M294.5,397.1v8.8M325.1,402.5h8.8M329.5,398.1v8.8M296.1,402.5h8.8M300.5,398.1v8.8M317.1,403.5h8.8M321.5,399.1v8.8M303.1,408.5h8.8M307.5,404.1v8.8M306.1,399.5h8.8M310.5,395.1v8.8M313.1,409.5h8.8M317.5,405.1v8.8M306.1,409.5h8.8M310.5,405.1v8.8M311.1,398.5h8.8M315.5,394.1v8.8M310.1,401.5h8.8M314.5,397.1v8.8M309.1,411.5h8.8M313.5,407.1v8.8M313.1,421.5h8.8M317.5,417.1v8.8M315.1,413.5h8.8M319.5,409.1v8.8M308.1,421.5h8.8M312.5,417.1v8.8M311.1,412.5h8.8M315.5,408.1v8.8M306.1,416.5h8.8M310.5,412.1v8.8M310.1,420.5h8.8M314.5,416.1v8.8M301.1,403.5h8.8M305.5,399.1v8.8M314.1,401.5h8.8M318.5,397.1v8.8M319.1,406.5h8.8M323.5,402.1v8.8M322.1,412.5h8.8M326.5,408.1v8.8M308.1,403.5h8.8M312.5,399.1v8.8M307.1,410.5h8.8M311.5,406.1v8.8M317.1,404.5h8.8M321.5,400.1v8.8" stroke="#00bfbf" stroke-width="0.95" fill="none"/>
<path d="M178.15,383.95l8.50,8.50M178.15,392.45l8.50,-8.50M201.25,379.25l8.50,8.50M201.25,387.75l8.50,-8.50M184.05,391.35l8.50,8.50M184.05,399.85l8.50,-8.50" stroke="#0000ff" stroke-width="0.95" fill="none"/>
<rect x="175.9" y="393.75" width="36.2" height="9.7" rx="4.85" ry="4.85" fill="#a205a2" stroke="#000" stroke-width="1.15"/>
<g stroke="#000" stroke-opacity="0.4" stroke-width="0.7" fill="#bf00bf">
<circle cx="182.7" cy="399.1" r="4.17"/>
<circle cx="199.3" cy="399.0" r="4.17"/>
<circle cx="198.8" cy="398.8" r="4.17"/>
<circle cx="180.9" cy="399.1" r="4.17"/>
<circle cx="197.1" cy="398.2" r="4.17"/>
<circle cx="201.4" cy="398.4" r="4.17"/>
<circle cx="191.7" cy="398.3" r="4.17"/>
<circle cx="181.4" cy="399.1" r="4.17"/>
<circle cx="192.0" cy="398.1" r="4.17"/>
<circle cx="192.2" cy="398.5" r="4.17"/>
<circle cx="192.1" cy="398.1" r="4.17"/>
<circle cx="190.8" cy="399.1" r="4.17"/>
<circle cx="192.3" cy="398.7" r="4.17"/>
<circle cx="186.4" cy="398.2" r="4.17"/>
<circle cx="183.7" cy="399.1" r="4.17"/>
<circle cx="205.2" cy="399.0" r="4.17"/>
<circle cx="183.2" cy="398.8" r="4.17"/>
<circle cx="190.1" cy="398.7" r="4.17"/>
<circle cx="184.6" cy="398.7" r="4.17"/>
<circle cx="187.9" cy="398.8" r="4.17"/>
<circle cx="193.7" cy="398.1" r="4.17"/>
<circle cx="192.4" cy="398.4" r="4.17"/>
<circle cx="194.4" cy="398.3" r="4.17"/>
<circle cx="192.2" cy="398.9" r="4.17"/>
<circle cx="196.3" cy="398.8" r="4.17"/>
<circle cx="180.9" cy="399.0" r="4.17"/>
<circle cx="195.0" cy="398.2" r="4.17"/>
<circle cx="183.8" cy="399.2" r="4.17"/>
<circle cx="199.0" cy="398.7" r="4.17"/>
<circle cx="181.8" cy="398.1" r="4.17"/>
<circle cx="183.8" cy="398.8" r="4.17"/>
<circle cx="187.7" cy="398.5" r="4.17"/>
<circle cx="196.1" cy="398.5" r="4.17"/>
<circle cx="189.9" cy="398.5" r="4.17"/>
</g>
<g stroke="#000" stroke-width="0.8" fill="#bf00bf">
<circle cx="181.6" cy="398.6" r="4.17"/>
<circle cx="187.3" cy="399.0" r="4.17"/>
<circle cx="206.4" cy="398.4" r="4.17"/>
<circle cx="194.0" cy="398.5" r="4.17"/>
<circle cx="205.3" cy="399.0" r="4.17"/>
</g>
<path d="M100.5,398.75H382.3" stroke="#0000ff" stroke-width="1.39" stroke-dasharray="8.33,8.33" fill="none"/>
<path d="M100.5,398.75H382.3" stroke="#ff0000" stroke-width="1.39" stroke-dasharray="8.33,8.33" fill="none"/>
<path d="M100.5,396.85H382.3" stroke="#0000ff" stroke-width="1.39" stroke-dasharray="4.17,6.94,1.39,6.94" fill="none"/>
<path d="M100.5,400.65H382.3" stroke="#0000ff" stroke-width="1.39" stroke-dasharray="4.17,6.94,1.39,6.94" fill="none"/>
</g>
<rect x="100.50" y="60.5" width="281.80" height="479.80" fill="none" stroke="#000" stroke-width="1.39"/>
<path d="M100.5,540.3v-6.20M138.5,540.3v-6.20M175.5,540.3v-6.20M213.5,540.3v-6.20M250.5,540.3v-6.20M288.5,540.3v-6.20M325.5,540.3v-6.20M363.5,540.3v-6.20M117.5,60.5v6.20M155.5,60.5v6.20M192.5,60.5v6.20M230.5,60.5v6.20M268.5,60.5v6.20M305.5,60.5v6.20M343.5,60.5v6.20M381.5,60.5v6.20M100.5,540.5h6.20M382.3,540.5h-6.20M100.5,420.5h6.20M382.3,420.5h-6.20M100.5,300.5h6.20M382.3,300.5h-6.20M100.5,180.5h6.20M382.3,180.5h-6.20M100.5,60.5h6.20M382.3,60.5h-6.20" stroke="#000" stroke-width="1" stroke-opacity="0.85" fill="none"/>
<text transform="translate(100.00,559.70) scale(0.955,1.05)" text-anchor="middle" font-size="16.67px">−20</text>
<text transform="translate(137.57,559.70) scale(0.955,1.05)" text-anchor="middle" font-size="16.67px">−18</text>
<text transform="translate(175.15,559.70) scale(0.955,1.05)" text-anchor="middle" font-size="16.67px">−16</text>
<text transform="translate(212.72,559.70) scale(0.955,1.05)" text-anchor="middle" font-size="16.67px">−14</text>
<text transform="translate(250.29,559.70) scale(0.955,1.05)" text-anchor="middle" font-size="16.67px">−12</text>
<text transform="translate(287.87,559.70) scale(0.955,1.05)" text-anchor="middle" font-size="16.67px">−10</text>
<text transform="translate(325.44,559.70) scale(0.955,1.05)" text-anchor="middle" font-size="16.67px">−8</text>
<text transform="translate(363.01,559.70) scale(0.955,1.05)" text-anchor="middle" font-size="16.67px">−6</text>
<text transform="translate(117.00,50.00) scale(0.955,1.05)" text-anchor="middle" font-size="16.67px">14</text>
<text transform="translate(154.66,50.00) scale(0.955,1.05)" text-anchor="middle" font-size="16.67px">16</text>
<text transform="translate(192.32,50.00) scale(0.955,1.05)" text-anchor="middle" font-size="16.67px">18</text>
<text transform="translate(229.98,50.00) scale(0.955,1.05)" text-anchor="middle" font-size="16.67px">20</text>
<text transform="translate(267.64,50.00) scale(0.955,1.05)" text-anchor="middle" font-size="16.67px">22</text>
<text transform="translate(305.30,50.00) scale(0.955,1.05)" text-anchor="middle" font-size="16.67px">24</text>
<text transform="translate(342.96,50.00) scale(0.955,1.05)" text-anchor="middle" font-size="16.67px">26</text>
<text transform="translate(380.62,50.00) scale(0.955,1.05)" text-anchor="middle" font-size="16.67px">28</text>
<text transform="translate(95.04,545.00) scale(0.955,1.05)" text-anchor="end" font-size="16.67px">0</text>
<text transform="translate(95.04,425.05) scale(0.955,1.05)" text-anchor="end" font-size="16.67px">5</text>
<text transform="translate(95.04,305.10) scale(0.955,1.05)" text-anchor="end" font-size="16.67px">10</text>
<text transform="translate(95.04,185.15) scale(0.955,1.05)" text-anchor="end" font-size="16.67px">15</text>
<text transform="translate(95.04,65.20) scale(0.955,1.05)" text-anchor="end" font-size="16.67px">20</text>
<text transform="translate(242.00,584.00) scale(0.995,1.05)" text-anchor="middle" font-size="16.67px">magnitude (bottom:isnt / top:calib)</text>
<text transform="translate(64.00,299.50) rotate(-90) scale(1.0,1.05)" text-anchor="middle" font-size="16.67px">FWHM (pix)</text>
<text transform="translate(226.90,29.00)" text-anchor="middle" font-size="20.00px">FWHM vs magnitudes</text>
<rect x="27.8" y="70.6" width="345.00" height="179.70" fill="#fff" stroke="#000" stroke-width="1.39"/>
<path d="M37.1,86.5h8.8M41.5,82.1v8.8" stroke="#00bfbf" stroke-width="0.95" fill="none"/>
<path d="M37.15,111.05l8.50,8.50M37.15,119.55l8.50,-8.50" stroke="#0000ff" stroke-width="0.95" fill="none"/>
<circle cx="41.3" cy="144.4" r="4.17" fill="#bf00bf" stroke="#000" stroke-width="0.95"/>
<path d="M65.1,86.5h8.8M69.5,82.1v8.8" stroke="#00bfbf" stroke-width="0.95" fill="none"/>
<path d="M65.15,111.05l8.50,8.50M65.15,119.55l8.50,-8.50" stroke="#0000ff" stroke-width="0.95" fill="none"/>
<circle cx="69.3" cy="144.4" r="4.17" fill="#bf00bf" stroke="#000" stroke-width="0.95"/>
<path d="M41.3,173.4H69.3" stroke="#0000ff" stroke-width="1.39" stroke-dasharray="8.33,8.33" fill="none"/>
<path d="M41.3,202.4H69.3" stroke="#ff0000" stroke-width="1.39" stroke-dasharray="8.33,8.33" fill="none"/>
<path d="M41.3,231.4H69.3" stroke="#0000ff" stroke-width="1.39" stroke-dasharray="4.17,6.94,1.39,6.94" fill="none"/>
<text transform="translate(91.30,92.50)" text-anchor="start" font-size="20.00px">all sample</text>
<text transform="translate(91.30,121.60)" text-anchor="start" font-size="20.00px">sample for rough FWHM</text>
<text transform="translate(91.30,150.70)" text-anchor="start" font-size="20.00px">best-effort PSF-like sample</text>
<text transform="translate(91.30,179.70)" text-anchor="start" font-size="20.00px">resultant FWHM: 5.88</text>
<text transform="translate(91.30,208.70)" text-anchor="start" font-size="20.00px">median FHWM of sequence</text>
<text transform="translate(91.30,237.70)" text-anchor="start" font-size="20.00px">sigma range</text>
<g clip-path="url(#c2)">
<rect x="438.50" y="389.70" width="0.00" height="57.31" fill="#0000ff" stroke="#000" stroke-width="1.0"/>
<rect x="438.50" y="332.39" width="2.95" height="57.31" fill="#0000ff" stroke="#000" stroke-width="1.1"/>
<rect x="438.50" y="274.30" width="220.90" height="58.09" fill="#0000ff" stroke="#000" stroke-width="1.1"/>
<rect x="438.50" y="217.77" width="5.00" height="56.53" fill="#0000ff" stroke="#000" stroke-width="1.1"/>
<rect x="438.50" y="160.46" width="2.95" height="57.31" fill="#0000ff" stroke="#000" stroke-width="1.1"/>
<rect x="438.50" y="103.55" width="2.95" height="56.91" fill="#0000ff" stroke="#000" stroke-width="1.1"/>
<path d="M438.50,305.73H697.00" stroke="#000" stroke-width="1.39" stroke-dasharray="8.33,8.33" fill="none"/>
</g>
<rect x="438.50" y="60.5" width="282.00" height="479.80" fill="none" stroke="#000" stroke-width="1.39"/>
<path d="M438.5,540.3v-6.20M438.5,60.5v6.20M485.5,540.3v-6.20M485.5,60.5v6.20M532.5,540.3v-6.20M532.5,60.5v6.20M579.5,540.3v-6.20M579.5,60.5v6.20M626.5,540.3v-6.20M626.5,60.5v6.20M673.5,540.3v-6.20M673.5,60.5v6.20M720.5,540.3v-6.20M720.5,60.5v6.20M438.50,540.5h6.20M720.5,540.5h-6.20M438.50,487.5h6.20M720.5,487.5h-6.20M438.50,433.5h6.20M720.5,433.5h-6.20M438.50,380.5h6.20M720.5,380.5h-6.20M438.50,327.5h6.20M720.5,327.5h-6.20M438.50,273.5h6.20M720.5,273.5h-6.20M438.50,220.5h6.20M720.5,220.5h-6.20M438.50,167.5h6.20M720.5,167.5h-6.20M438.50,113.5h6.20M720.5,113.5h-6.20M438.50,60.5h6.20M720.5,60.5h-6.20" stroke="#000" stroke-width="1" stroke-opacity="0.85" fill="none"/>
<text transform="translate(438.50,559.70) scale(0.955,1.05)" text-anchor="middle" font-size="16.67px">0</text>
<text transform="translate(485.50,559.70) scale(0.955,1.05)" text-anchor="middle" font-size="16.67px">20</text>
<text transform="translate(532.50,559.70) scale(0.955,1.05)" text-anchor="middle" font-size="16.67px">40</text>
<text transform="translate(579.50,559.70) scale(0.955,1.05)" text-anchor="middle" font-size="16.67px">60</text>
<text transform="translate(626.50,559.70) scale(0.955,1.05)" text-anchor="middle" font-size="16.67px">80</text>
<text transform="translate(673.50,559.70) scale(0.955,1.05)" text-anchor="middle" font-size="16.67px">100</text>
<text transform="translate(720.50,559.70) scale(0.955,1.05)" text-anchor="middle" font-size="16.67px">120</text>
<text transform="translate(433.04,545.00) scale(0.955,1.05)" text-anchor="end" font-size="16.67px">5.0</text>
<text transform="translate(433.04,491.69) scale(0.955,1.05)" text-anchor="end" font-size="16.67px">5.2</text>
<text transform="translate(433.04,438.38) scale(0.955,1.05)" text-anchor="end" font-size="16.67px">5.4</text>
<text transform="translate(433.04,385.07) scale(0.955,1.05)" text-anchor="end" font-size="16.67px">5.6</text>
<text transform="translate(433.04,331.76) scale(0.955,1.05)" text-anchor="end" font-size="16.67px">5.8</text>
<text transform="translate(433.04,278.44) scale(0.955,1.05)" text-anchor="end" font-size="16.67px">6.0</text>
<text transform="translate(433.04,225.13) scale(0.955,1.05)" text-anchor="end" font-size="16.67px">6.2</text>
<text transform="translate(433.04,171.82) scale(0.955,1.05)" text-anchor="end" font-size="16.67px">6.4</text>
<text transform="translate(433.04,118.51) scale(0.955,1.05)" text-anchor="end" font-size="16.67px">6.6</text>
<text transform="translate(433.04,65.20) scale(0.955,1.05)" text-anchor="end" font-size="16.67px">6.8</text>
<text transform="translate(579.50,584.00) scale(1.0,1.05)" text-anchor="middle" font-size="16.67px">number of sources</text>
<text transform="translate(397.00,299.40) rotate(-90) scale(0.996,1.05)" text-anchor="middle" font-size="16.67px">FWHM of best-effort PSF-like sources</text>
<text transform="translate(579.50,53.00)" text-anchor="middle" font-size="20.00px">histogram of FWHM</text>
</svg></body></html>
